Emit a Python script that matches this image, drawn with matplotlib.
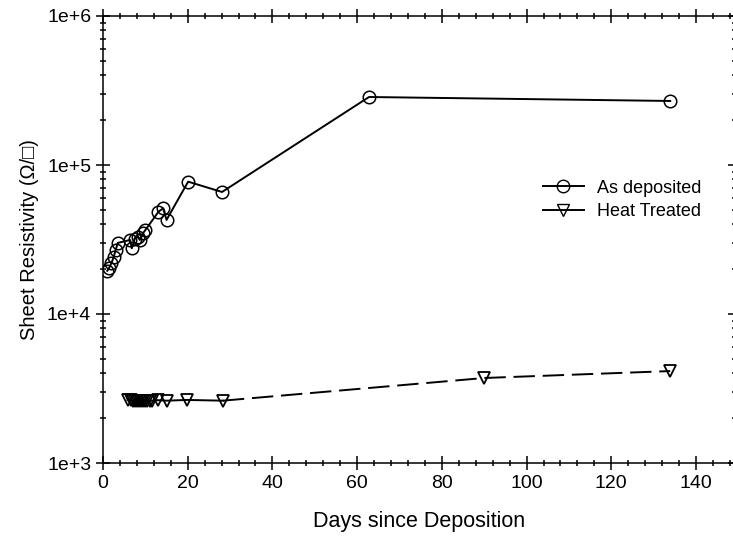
import numpy as np
import matplotlib.pyplot as plt
from matplotlib.ticker import FixedLocator, MultipleLocator, LogLocator, NullFormatter
from matplotlib.lines import Line2D

plt.rcParams['font.family'] = ['Liberation Sans', 'DejaVu Sans']

# as deposited samples
dep_days = [1, 1.5, 2, 2.5, 3, 3.5, 6.4, 6.8, 7.5, 8.2, 8.7, 9.5, 10, 13.1, 14.2, 15, 20.1, 28.1, 62.8, 133.9]
dep_res = [19500, 20500, 22000, 24000, 27000, 30000, 31400, 27600, 32000, 33000, 31400, 35000, 36600,
           48600, 51200, 42800, 77300, 65900, 286000, 269000]

# heat treated samples
ht_days = [5.8, 6.5, 7, 7.5, 8, 8.5, 9, 9.5, 10, 10.5, 11, 11.6, 13, 15, 19.8, 28.3, 90, 133.9]
ht_res = [2650, 2640, 2620, 2600, 2620, 2600, 2610, 2600, 2620, 2600, 2610, 2620, 2640, 2620, 2650, 2620, 3720, 4140]

fig = plt.figure(figsize=(7.33, 5.37), dpi=100)
ax = fig.add_axes([103 / 733, 1 - 463 / 537, 632 / 733, 447 / 537])

ax.plot(dep_days, dep_res, color='black', lw=1.4, marker='o', ms=9, mfc='none', mec='black', mew=1.1)
ax.plot(ht_days[:16], ht_res[:16], color='black', lw=1.4, marker='v', ms=8, mfc='none', mec='black', mew=1.3)
ax.plot(ht_days[15:], ht_res[15:], color='black', lw=1.4, ls=(0, (11, 4)), marker='v', ms=8, mfc='none',
        mec='black', mew=1.3, markevery=[1, 2])

ax.set_yscale('log')
ax.set_ylim(1e3, 1e6)
ax.set_xlim(0, 149.2)
ax.yaxis.set_major_locator(FixedLocator([1e3, 1e4, 1e5, 1e6]))
ax.set_yticklabels(['1e+3', '1e+4', '1e+5', '1e+6'])
ax.yaxis.set_minor_locator(LogLocator(base=10, subs=np.arange(2, 10)))
ax.yaxis.set_minor_formatter(NullFormatter())
ax.xaxis.set_major_locator(MultipleLocator(20))
ax.xaxis.set_minor_locator(MultipleLocator(4))

ax.tick_params(which='both', direction='inout', top=True, right=True, labelsize=14, width=1.1, colors='black')
ax.tick_params(which='major', length=10)
ax.tick_params(which='minor', length=5)
for s in ax.spines.values():
    s.set_linewidth(1.1)

ax.set_xlabel('Days since Deposition', fontsize=15.5, labelpad=14)
ax.set_ylabel('Sheet Resistivity (\u03a9/\u25a1)', fontsize=14.5, labelpad=6)

handles = [
    Line2D([], [], color='black', lw=1.4, marker='o', ms=9, mfc='none', mec='black'),
    Line2D([], [], color='black', lw=1.4, marker='v', ms=8, mfc='none', mec='black'),
]
ax.legend(handles, ['As deposited', 'Heat Treated'], loc='upper left', bbox_to_anchor=(0.67, 0.67),
          frameon=False, fontsize=13, handlelength=2.3, handletextpad=0.7, labelspacing=0.35)

fig.savefig('out.png', dpi=100)
